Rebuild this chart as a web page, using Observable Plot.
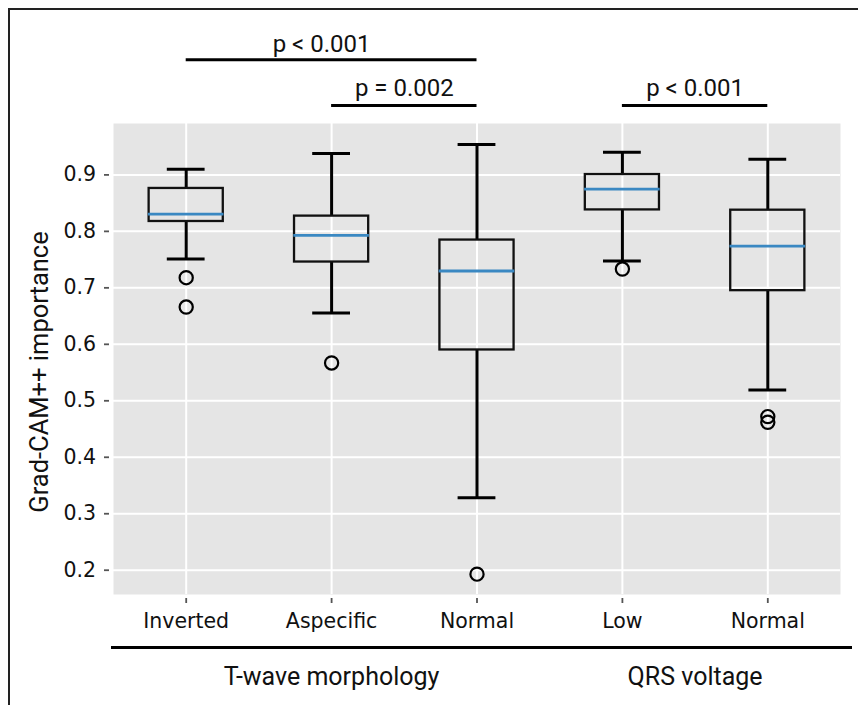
<!DOCTYPE html>
<html><head><meta charset="utf-8">
<script src="https://cdn.jsdelivr.net/npm/d3@7"></script>
<script src="https://cdn.jsdelivr.net/npm/@observablehq/plot@0.6"></script>
<style>
html,body{margin:0;padding:0;background:#fff;}
#wrap{position:relative;width:858px;height:705px;overflow:hidden;}
#border{position:absolute;left:8px;top:8px;right:-10px;bottom:-10px;border-top:2px solid #222;border-left:2px solid #222;pointer-events:none;}
</style></head><body>
<div id="wrap"><div id="chart"></div><div id="border"></div></div>
<script>
// ---- data ----
const categories  = ["Inverted", "Aspecific", "Normal", "Low", "Normal"];
const whiskerLow  = [0.751, 0.6555, 0.3285, 0.7475, 0.519];
const q1          = [0.8175, 0.7457, 0.590, 0.838, 0.695];
const median      = [0.8305, 0.793, 0.7298, 0.8747, 0.774];
const q3          = [0.876, 0.827, 0.7846, 0.9006, 0.8375];
const whiskerHigh = [0.910, 0.938, 0.954, 0.940, 0.9278];
const outliers    = [[0.718, 0.666], [0.567], [0.193], [0.7333], [0.472, 0.462]];
const yTicks      = [0.2, 0.3, 0.4, 0.5, 0.6, 0.7, 0.8, 0.9];
const yTitle      = "Grad-CAM++ importance";
const comparisons = [
  {from: 0, to: 2, label: "p < 0.001", level: 2},
  {from: 1, to: 2, label: "p = 0.002", level: 1},
  {from: 3, to: 4, label: "p < 0.001", level: 1}
];
const groups = [
  {label: "T-wave morphology", first: 0, last: 2},
  {label: "QRS voltage", first: 3, last: 4}
];

// ---- derived tables ----
const stats = categories.map((c, i) => ({i, cat: c, lo: whiskerLow[i], q1: q1[i], med: median[i], q3: q3[i], hi: whiskerHigh[i]}));
const outlierPts = outliers.flatMap((vals, i) => vals.map(v => ({i, v})));
const yDomain = [0.157, 0.991];
const annFont = "Roboto, sans-serif";
const tickFont = "DejaVu Sans, sans-serif";
const ink = "#111";

const lvl = L => comparisons.filter(d => d.level === L);

const chart = Plot.plot({
  width: 858, height: 705,
  marginLeft: 113, marginRight: 18, marginTop: 123, marginBottom: 111,
  style: {fontFamily: tickFont, fontSize: "20.5px", color: ink, background: "transparent", overflow: "visible"},
  x: {type: "linear", domain: [-0.5, 4.5], axis: null},
  y: {domain: yDomain, axis: null},
  marks: [
    Plot.frame({fill: "#e5e5e5", stroke: null}),
    Plot.gridY(yTicks, {stroke: "#fff", strokeOpacity: 1, strokeWidth: 2}),
    Plot.gridX(d3.range(categories.length), {stroke: "#fff", strokeOpacity: 1, strokeWidth: 2}),
    Plot.axisY(yTicks, {tickSize: 5, tickPadding: 8.5, dx: -4, stroke: "#555", fill: ink, strokeWidth: 1.8,
      tickFormat: d => d.toFixed(1), fontFamily: tickFont, fontSize: 20.5, label: null}),
    Plot.axisX(d3.range(categories.length), {tickSize: 5, tickPadding: 9.7, dy: 4, stroke: "#555", fill: ink, strokeWidth: 1.8,
      tickFormat: i => categories[i], fontFamily: tickFont, fontSize: 20.5, label: null}),
    // whiskers
    Plot.ruleX(stats, {x: "i", y1: "lo", y2: "q1", stroke: "#000", strokeWidth: 3}),
    Plot.ruleX(stats, {x: "i", y1: "q3", y2: "hi", stroke: "#000", strokeWidth: 3}),
    Plot.ruleY(stats, {y: "lo", x1: d => d.i - 0.13, x2: d => d.i + 0.13, stroke: "#000", strokeWidth: 3}),
    Plot.ruleY(stats, {y: "hi", x1: d => d.i - 0.13, x2: d => d.i + 0.13, stroke: "#000", strokeWidth: 3}),
    // boxes
    Plot.rect(stats, {x1: d => d.i - 0.255, x2: d => d.i + 0.255, y1: "q1", y2: "q3", fill: "none", stroke: "#111", strokeWidth: 2.3}),
    Plot.ruleY(stats, {y: "med", x1: d => d.i - 0.26, x2: d => d.i + 0.26, stroke: "#3a88c2", strokeWidth: 2.8}),
    // outliers
    Plot.dot(outlierPts, {x: "i", y: "v", r: 6.6, stroke: "#000", strokeWidth: 2.2, fill: "none"}),
    // y title
    Plot.text([yTitle], {frameAnchor: "left", textAnchor: "middle", rotate: -90, dx: -74, dy: 13,
      fontFamily: annFont, fontSize: 25.5, fill: ink}),
    // significance brackets
    Plot.ruleY(lvl(1), {x1: "from", x2: "to", y: () => yDomain[1], dy: -18, stroke: "#000", strokeWidth: 3}),
    Plot.ruleY(lvl(2), {x1: "from", x2: "to", y: () => yDomain[1], dy: -63.7, stroke: "#000", strokeWidth: 3}),
    Plot.text(lvl(1), {x: d => (d.from + d.to) / 2, text: "label", frameAnchor: "top", lineAnchor: "bottom", dy: -27.5,
      fontFamily: annFont, fontSize: 24, fill: ink}),
    Plot.text(lvl(2), {x: d => (d.from + d.to) / 2, text: "label", frameAnchor: "top", lineAnchor: "bottom", dy: -71.3, dx: -10,
      fontFamily: annFont, fontSize: 24, fill: ink}),
    // group lines and labels
    Plot.ruleY(groups.slice(0, 1), {x1: d => d.first - 0.5, x2: d => d.last + 0.5, y: () => yDomain[0], dy: 53,
      insetLeft: -2, insetRight: 5, stroke: "#000", strokeWidth: 3}),
    Plot.ruleY(groups.slice(1), {x1: d => d.first - 0.5, x2: d => d.last + 0.5, y: () => yDomain[0], dy: 53,
      insetLeft: -17, insetRight: -12, stroke: "#000", strokeWidth: 3}),
    Plot.text(groups, {x: d => (d.first + d.last) / 2, text: "label", frameAnchor: "bottom", lineAnchor: "bottom", dy: 90,
      fontFamily: annFont, fontSize: 25, fill: ink})
  ]
});
document.getElementById("chart").appendChild(chart);
</script>
</body></html>
